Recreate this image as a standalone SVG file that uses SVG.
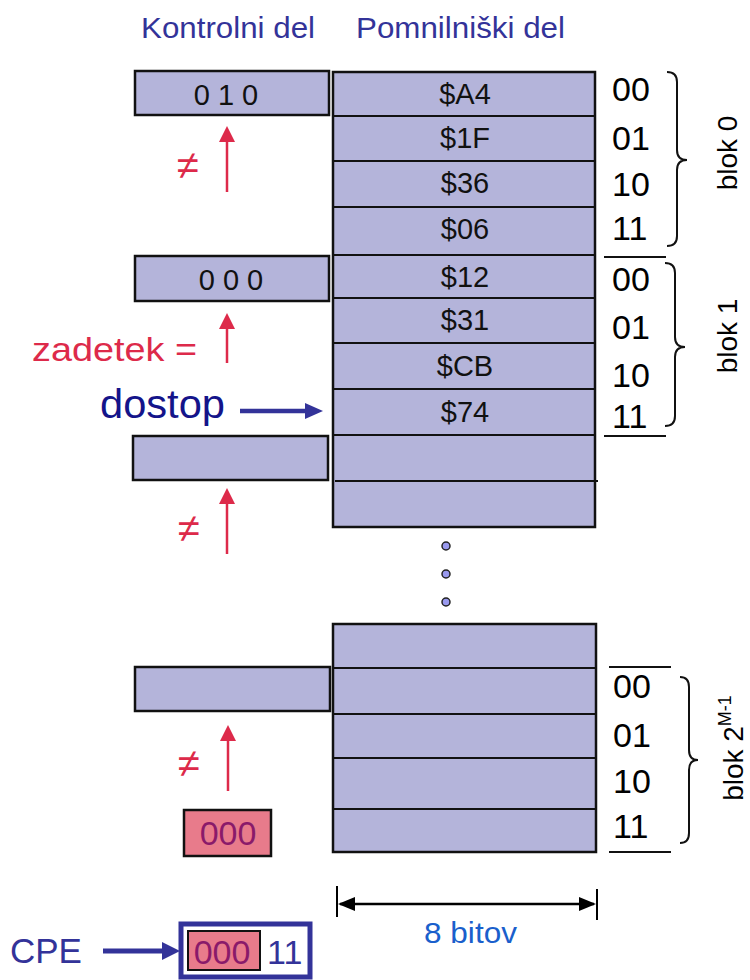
<svg xmlns="http://www.w3.org/2000/svg" width="750" height="980" viewBox="0 0 750 980">
<style>
text{font-family:"Liberation Sans",Arial,sans-serif}
.cell{fill:#b4b4da;stroke:#111;stroke-width:2.5}
.tag{fill:#b4b4da;stroke:#111;stroke-width:2.5}
.val{font-size:29px;fill:#111;text-anchor:middle}
.idx{font-size:34px;fill:#000}
.hdr{font-size:29px;fill:#333399}
.red{fill:#dd2a4a}
.rline{stroke:#dd2a4a;stroke-width:2.5}
.neq{font-size:40px;fill:#dd2a4a;text-anchor:middle}
.brace{fill:none;stroke:#111;stroke-width:2}
.blk{font-size:28px;fill:#000;text-anchor:middle}
.sep{stroke:#111;stroke-width:2}
</style>
<rect width="750" height="980" fill="#fff"/>
<g id="headers">
<text class="hdr" x="141" y="38" textLength="174" lengthAdjust="spacingAndGlyphs">Kontrolni del</text>
<text class="hdr" x="356" y="38" textLength="209" lengthAdjust="spacingAndGlyphs">Pomnilniški del</text>
</g>
<g id="memory-top">
<rect class="cell" x="333" y="72" width="262" height="455"/>
<line class="sep" x1="333" y1="116" x2="595" y2="116"/>
<line class="sep" x1="333" y1="161" x2="595" y2="161"/>
<line class="sep" x1="332" y1="207" x2="595" y2="207"/>
<line class="sep" x1="333" y1="255" x2="595" y2="255"/>
<line class="sep" x1="333" y1="298" x2="595" y2="298"/>
<line class="sep" x1="333" y1="343" x2="595" y2="343"/>
<line class="sep" x1="333" y1="389" x2="595" y2="389"/>
<line class="sep" x1="333" y1="435" x2="595" y2="435"/>
<line class="sep" x1="335" y1="481" x2="598" y2="481"/>
<text class="val" x="465" y="104">$A4</text>
<text class="val" x="465" y="148">$1F</text>
<text class="val" x="465" y="193">$36</text>
<text class="val" x="465" y="239">$06</text>
<text class="val" x="465" y="287">$12</text>
<text class="val" x="465" y="330">$31</text>
<text class="val" x="465" y="376">$CB</text>
<text class="val" x="465" y="422">$74</text>
</g>
<g id="dots">
<circle cx="446" cy="546" r="4" fill="#9999ee" stroke="#222" stroke-width="1.5"/>
<circle cx="446" cy="574" r="4" fill="#9999ee" stroke="#222" stroke-width="1.5"/>
<circle cx="446" cy="602" r="4" fill="#9999ee" stroke="#222" stroke-width="1.5"/>
</g>
<g id="memory-bottom">
<rect class="cell" x="333" y="624" width="263" height="228"/>
<line class="sep" x1="333" y1="668" x2="596" y2="668"/>
<line class="sep" x1="333" y1="714" x2="596" y2="714"/>
<line class="sep" x1="333" y1="758" x2="596" y2="758"/>
<line class="sep" x1="333" y1="809" x2="596" y2="809"/>
</g>
<g id="tag0">
<rect class="tag" x="135" y="71" width="194" height="44"/>
<text class="val" x="226" y="105" font-size="31">0 1 0</text>
</g>
<g id="tag1">
<rect class="tag" x="135" y="256" width="194" height="45"/>
<text class="val" x="231" y="290" font-size="31">0 0 0</text>
</g>
<g id="tag2">
<rect class="tag" x="133" y="436" width="195" height="44"/>
</g>
<g id="tag3">
<rect class="tag" x="135" y="667" width="195" height="44"/>
</g>
<g id="labels-blok0">
<text class="idx" x="612" y="101">00</text>
<text class="idx" x="612" y="150">01</text>
<text class="idx" x="612" y="196">10</text>
<text class="idx" x="612" y="240">11</text>
<line class="sep" x1="604" y1="257" x2="666" y2="257"/>
<path class="brace" d="M667 72 Q677 72 677 82 L677 150 Q677 160 687 160 Q677 160 677 170 L677 236 Q677 246 667 246"/>
<text class="blk" transform="translate(737,153) rotate(-90)">blok 0</text>
</g>
<g id="labels-blok1">
<text class="idx" x="612" y="291">00</text>
<text class="idx" x="612" y="339">01</text>
<text class="idx" x="612" y="387">10</text>
<text class="idx" x="612" y="428">11</text>
<line class="sep" x1="604" y1="436" x2="666" y2="436"/>
<path class="brace" d="M665 263 Q675 263 675 273 L675 337 Q675 347 685 347 Q675 347 675 357 L675 416 Q675 426 665 426"/>
<text class="blk" transform="translate(737,336) rotate(-90)">blok 1</text>
</g>
<g id="labels-blokM">
<line class="sep" x1="609" y1="667" x2="671" y2="667"/>
<text class="idx" x="613" y="698">00</text>
<text class="idx" x="613" y="747">01</text>
<text class="idx" x="613" y="793">10</text>
<text class="idx" x="613" y="838">11</text>
<line class="sep" x1="609" y1="852" x2="671" y2="852"/>
<path class="brace" d="M680 677 Q689 677 689 687 L689 750 Q689 760 698 760 Q689 760 689 770 L689 833 Q689 843 680 843"/>
<text class="blk" transform="translate(743,748) rotate(-90)">blok 2<tspan font-size="18" dy="-12">M-1</tspan></text>
</g>
<g id="connectors">
<line class="rline" x1="227" y1="140" x2="227" y2="192"/>
<polygon class="red" points="219,142 227,126 235,142"/>
<line class="rline" x1="227" y1="327" x2="227" y2="363"/>
<polygon class="red" points="219,329 227,313 235,329"/>
<line class="rline" x1="227" y1="502" x2="227" y2="554"/>
<polygon class="red" points="219,504 227,488 235,504"/>
<line class="rline" x1="228" y1="739" x2="228" y2="791"/>
<polygon class="red" points="220,741 228,725 236,741"/>
<line x1="240" y1="411" x2="308" y2="411" stroke="#333399" stroke-width="4.5"/>
<polygon points="305,403 323,411 305,419" fill="#333399"/>
<line x1="103" y1="951" x2="165" y2="951" stroke="#333399" stroke-width="5"/>
<polygon points="162,942 180,951 162,960" fill="#333399"/>
<line x1="340" y1="904" x2="594" y2="904" stroke="#000" stroke-width="2.5"/>
<polygon points="338,904 355,897 355,911" fill="#000"/>
<polygon points="596,904 579,897 579,911" fill="#000"/>
<line x1="337" y1="886" x2="337" y2="917" stroke="#000" stroke-width="2"/>
<line x1="597" y1="889" x2="597" y2="920" stroke="#000" stroke-width="2"/>
</g>
<g id="compare-labels">
<text class="neq" x="188" y="179">≠</text>
<text x="32" y="361" font-size="34" class="red" textLength="165" lengthAdjust="spacingAndGlyphs">zadetek =</text>
<text class="neq" x="189" y="542">≠</text>
<text class="neq" x="189" y="777">≠</text>
<text x="100" y="418" font-size="40" fill="#14148a" textLength="125" lengthAdjust="spacingAndGlyphs">dostop</text>
</g>
<g id="search-tag">
<rect x="184" y="810" width="87" height="46" fill="#e87b8b" stroke="#111" stroke-width="2.5"/>
<text x="228" y="845" font-size="34" fill="#8a1a6a" text-anchor="middle">000</text>
</g>
<g id="cpe">
<text x="10" y="963" font-size="35" fill="#333399">CPE</text>
<rect x="181" y="924" width="129" height="53" fill="#fff" stroke="#333399" stroke-width="5"/>
<rect x="188" y="931" width="72" height="39" fill="#e87b8b" stroke="#111" stroke-width="2"/>
<text x="222" y="964" font-size="34" fill="#8a1a6a" text-anchor="middle">000</text>
<text x="267" y="964" font-size="34" fill="#333399">11</text>
</g>
<g id="width-label">
<text x="424" y="943" font-size="29" fill="#1a5fcc" textLength="93" lengthAdjust="spacingAndGlyphs">8 bitov</text>
</g>
</svg>
